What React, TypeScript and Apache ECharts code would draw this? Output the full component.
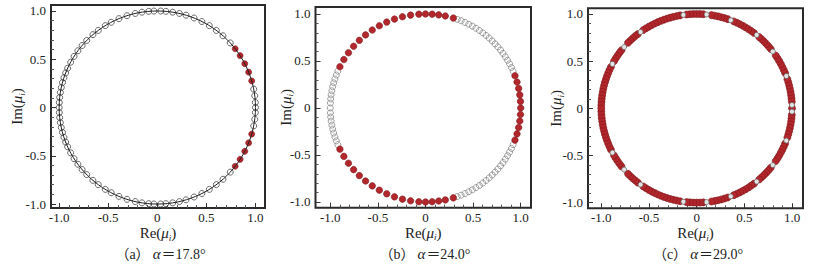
import React, { useEffect, useRef } from "react";
import * as echarts from "echarts";

// Tick values / labels shared by all panels
const majorTicks = [-1, -0.5, 0, 0.5, 1];
const majorLabels = ["-1.0", "-0.5", "0", "0.5", "1.0"];
const minorTicks = [-0.9, -0.8, -0.7, -0.6, -0.4, -0.3, -0.2, -0.1, 0.1, 0.2, 0.3, 0.4, 0.6, 0.7, 0.8, 0.9];

// Eigenvalue phase angles (degrees) in the upper half plane; the conjugates are mirrored below.
// (a) alpha = 17.8°
const aHollowAngles = [0, 3, 7, 11, 42, 48, 53, 58, 63, 68, 73, 77, 81, 85, 88, 92, 95, 99, 103, 108, 113, 118, 122, 127, 131, 136, 140, 144, 148, 152, 156, 159, 162, 165, 168, 171, 174, 177, 180];
const aRedAngles = [16, 21.5, 27, 32.5, 37.5];
// (b) alpha = 24.0°
const bHollowAngles = [23, 25.5, 28, 30.5, 33, 35.5, 38, 40.5, 43, 45.5, 48, 50.5, 53, 55.5, 58, 60.5, 63, 65.5, 68, 70.5, 157, 159.5, 162, 164.5, 167, 169.5, 172, 174.5, 177, 180];
const bRedAngles = [0, 4, 8, 12, 16, 20, 73, 78, 82, 86, 90, 94, 99, 104, 109, 114, 119, 124, 129, 134, 139, 144, 149, 154];
// (c) alpha = 29.0°
const cHollowAngles = [2, 20, 37, 51, 69, 84, 98, 126, 139.5, 152];
const cRedAngles = [0, 4, 6, 8, 10, 12, 14, 16, 18, 22, 24, 26, 28, 30, 32, 34, 39, 41, 43, 45, 47, 49, 53, 55, 57, 59, 61, 63, 65, 67, 71, 73, 75, 77, 79, 81, 86, 88, 90, 92, 94, 96, 100, 102, 104, 106, 108, 110, 112, 114, 116, 118, 120, 122, 124, 128, 130, 132, 134, 136, 142, 144, 146, 148, 150, 154, 156, 158, 160, 162, 164, 166, 168, 170, 172, 174, 176, 178, 180];

const captions = ["a", "b", "c"];
const alphas = ["17.8", "24.0", "29.0"];

const toPoints = (angles: number[]) => {
  const pts: number[][] = [];
  angles.forEach((a) => {
    const r = (a * Math.PI) / 180;
    pts.push([Math.cos(r), Math.sin(r)]);
    if (a > 0 && a < 180) pts.push([Math.cos(r), -Math.sin(r)]);
  });
  return pts;
};

const FONT = "'Liberation Serif', 'Times New Roman', serif";
const RED = "#b3262b";

const panels = [
  { grid: { left: 51, top: 5, width: 214, height: 203 }, x: [-1.083, 1.097], y: [-1.041, 1.062], yGap: 25, xGap: 16,
    hollow: aHollowAngles, red: aRedAngles, hollowColor: "#444", hollowFill: "rgba(255,255,255,0)", hollowSize: 6, redSize: 6, line: true, hollowTop: false },
  { grid: { left: 315.5, top: 7, width: 215.5, height: 200.7 }, x: [-1.155, 1.108], y: [-1.061, 1.074], yGap: 21, xGap: 16,
    hollow: bHollowAngles, red: bRedAngles, hollowColor: "#888", hollowFill: "rgba(255,255,255,0)", hollowSize: 6, redSize: 6.5, line: false, hollowTop: false },
  { grid: { left: 588, top: 8.3, width: 215, height: 200 }, x: [-1.139, 1.115], y: [-1.06, 1.06], yGap: 23, xGap: 16,
    hollow: cHollowAngles, red: cRedAngles, hollowColor: "#666", hollowFill: "#e4e4e4", hollowSize: 5, redSize: 7, line: false, hollowTop: true },
];

const labelFmt = (v: number) => {
  const i = majorTicks.findIndex((t) => Math.abs(t - v) < 1e-6);
  return i >= 0 ? majorLabels[i] : "";
};

const nameRich = {
  n: { fontFamily: FONT, fontSize: 15, color: "#222" },
  m: { fontFamily: FONT, fontSize: 15, fontStyle: "italic", color: "#222" },
  s: { fontFamily: FONT, fontSize: 9, fontStyle: "italic", color: "#222", padding: [9, 0, 0, 0] },
};

export default function App() {
  const ref = useRef<HTMLDivElement>(null);
  useEffect(() => {
    if (!ref.current) return;
    const chart = echarts.init(ref.current, undefined, { renderer: "svg" });
    const grids: any[] = [];
    const xAxes: any[] = [];
    const yAxes: any[] = [];
    const series: any[] = [];
    const graphics: any[] = [];
    panels.forEach((p, i) => {
      grids.push({ ...p.grid, show: true, borderColor: "#2b2b2b", borderWidth: 2, backgroundColor: "transparent", containLabel: false });
      const common = { type: "value", gridIndex: i, splitLine: { show: false }, axisLine: { show: false, onZero: false } };
      xAxes.push({
        ...common, min: p.x[0], max: p.x[1], position: "bottom",
        axisTick: { show: true, inside: true, length: 5, customValues: majorTicks, lineStyle: { color: "#333" } },
        axisLabel: { customValues: majorTicks, formatter: labelFmt, fontFamily: FONT, fontSize: 13, color: "#222", margin: 3 },
        name: "{n|Re(}{m|μ}{s|i}{n|)}", nameLocation: "middle", nameGap: p.xGap, nameMoveOverlap: false, nameTextStyle: { rich: nameRich },
      });
      xAxes.push({
        ...common, min: p.x[0], max: p.x[1], position: "bottom",
        axisTick: { show: true, inside: true, length: 3, customValues: minorTicks, lineStyle: { color: "#555" } },
        axisLabel: { show: false },
      });
      yAxes.push({
        ...common, min: p.y[0], max: p.y[1], position: "left",
        axisTick: { show: true, inside: true, length: 5, customValues: majorTicks, lineStyle: { color: "#333" } },
        axisLabel: { customValues: majorTicks, formatter: labelFmt, fontFamily: FONT, fontSize: 13, color: "#222", margin: 5 },
        name: "{n|Im(}{m|μ}{s|i}{n|)}", nameLocation: "middle", nameGap: p.yGap, nameRotate: 90, nameMoveOverlap: false, nameTextStyle: { rich: nameRich },
      });
      yAxes.push({
        ...common, min: p.y[0], max: p.y[1], position: "left",
        axisTick: { show: true, inside: true, length: 3, customValues: minorTicks, lineStyle: { color: "#555" } },
        axisLabel: { show: false },
      });
      const xi = i * 2;
      const yi = i * 2;
      if (p.line) {
        series.push({
          type: "custom", xAxisIndex: xi, yAxisIndex: yi, data: [[0, 0, 1]], silent: true, z: 5, clip: false,
          renderItem: (_params: any, api: any) => {
            const c = api.coord([api.value(0), api.value(1)]);
            const s = api.size([api.value(2), api.value(2)]);
            return { type: "ellipse", shape: { cx: c[0], cy: c[1], rx: s[0], ry: s[1] }, style: { fill: "none", stroke: "#222", lineWidth: 1 } };
          },
        });
      }
      series.push({
        type: "scatter", xAxisIndex: xi, yAxisIndex: yi, data: toPoints(p.red), symbol: "circle", symbolSize: p.redSize,
        itemStyle: { color: RED, borderColor: "#7a1a1c", borderWidth: 0.6, opacity: 1 }, z: 3, silent: true,
      });
      series.push({
        type: "scatter", xAxisIndex: xi, yAxisIndex: yi, data: toPoints(p.hollow), symbol: "circle", symbolSize: p.hollowSize,
        itemStyle: { color: p.hollowFill, borderColor: p.hollowColor, borderWidth: 0.8, opacity: 1 },
        z: p.hollowTop ? 4 : 2, silent: true,
      });
      const cx = [160.5, 425, 698][i];
      graphics.push({
        type: "text", x: cx, y: 254,
        style: {
          text: `{n|（${captions[i]}）}{g|α}{n|＝${alphas[i]}°}`,
          align: "center", verticalAlign: "middle",
          rich: {
            n: { fontFamily: FONT + ", 'Noto Sans CJK SC'", fontSize: 14, fill: "#222" },
            g: { fontFamily: FONT, fontSize: 15, fontStyle: "italic", fill: "#222", padding: [0, 1, 0, 3] },
          },
        },
      });
    });
    chart.setOption({
      animation: false,
      backgroundColor: "#fff",
      grid: grids,
      xAxis: xAxes,
      yAxis: yAxes,
      series,
      graphic: graphics,
    });
    return () => chart.dispose();
  }, []);
  return <div ref={ref} style={{ position: "fixed", left: 0, top: 0, width: 818, height: 264 }} />;
}
